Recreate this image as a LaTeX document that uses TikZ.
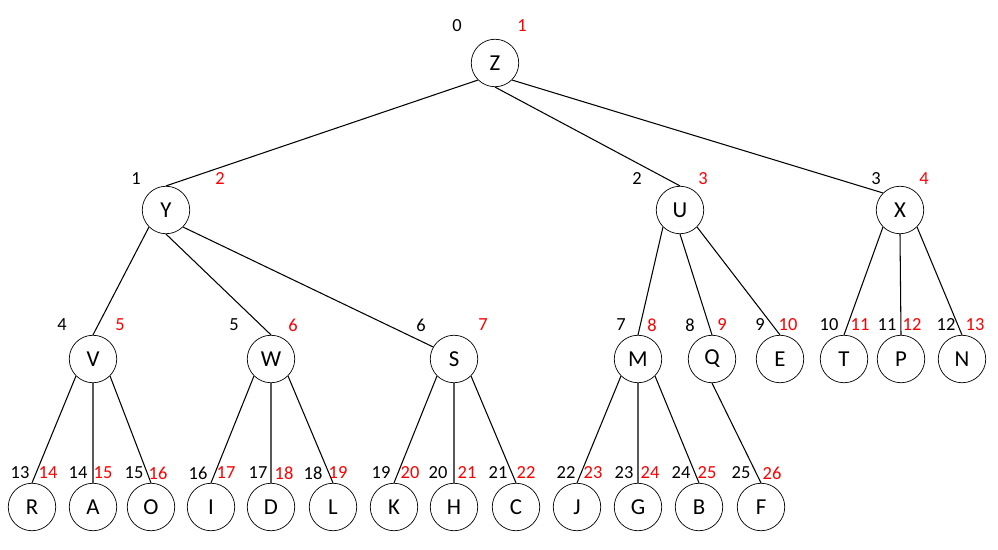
\documentclass[tikz,border=0pt]{standalone}
\usepackage{fontspec}
\setmainfont{Carlito}

\begin{document}
\begin{tikzpicture}[x=0.02cm,y=-0.02cm,
  every node/.style={draw,circle,minimum size=9.5mm,inner sep=0pt,font=\fontsize{13}{15}\selectfont},
  num/.style={draw=none,rectangle,minimum size=0pt,font=\fontsize{10.5}{12}\selectfont},
  ord/.style={num,text=red}]
\useasboundingbox (0,0) rectangle (998,550);

%level 0
\node (Z) at (495,63) {Z};

%level 1
\node (Y) at (166,210) {Y};
\node (U) at (680,210) {U};
\node (X) at (900,210) {X};

%level 2
\node (V) at (93,359) {V};
\node (W) at (271,359) {W};
\node (S) at (454,359) {S};
\node (M) at (638,359) {M};
\node (Q) at (712,359) {Q};
\node (E) at (780,359) {E};
\node (T) at (844,359) {T};
\node (P) at (901,359) {P};
\node (N) at (962,359) {N};

%level 3
\node (R) at (32,507) {R};
\node (A) at (93,507) {A};
\node (O) at (151,507) {O};
\node (I) at (211,507) {I};
\node (D) at (271,507) {D};
\node (L) at (333,507) {L};
\node (K) at (394,507) {K};
\node (H) at (454,507) {H};
\node (C) at (516,507) {C};
\node (J) at (577,507) {J};
\node (G) at (638,507) {G};
\node (B) at (699,507) {B};
\node (F) at (761,507) {F};

\draw[line width=0.6pt] (Z.south west) -- (Y.north)
      (Z.south) -- (U.north)
      (Z.south east) -- (X.north west)
      (Y.south west) -- (V.north)
      (Y.south) -- (W.north)
      (Y.south east) -- (S.150)
      (U.south west) -- (M.north)
      (U.south) -- (Q.north)
      (U.south east) -- (E.north)
      (X.south west) -- (T.north)
      (X.south) -- (P.north)
      (X.south east) -- (N.north)
      (V.south west) -- (R.north)
      (V.south) -- (A.north)
      (V.south east) -- (O.north)
      (W.south west) -- (I.north)
      (W.south) -- (D.north)
      (W.south east) -- (L.north)
      (S.south west) -- (K.north)
      (S.south) -- (H.north)
      (S.south east) -- (C.north)
      (M.south west) -- (J.north)
      (M.south) -- (G.north)
      (M.south east) -- (B.north)
      (Q.south) -- (F.north);

%numbers
\node[num] (nZ) at (457,26) {0};  \node[ord] (oZ) at (522,26) {1};
\node[num] (nY) at (136,179) {1}; \node[ord] (oY) at (220,179) {2};
\node[num] (nU) at (637,179) {2}; \node[ord] (oU) at (703,179) {3};
\node[num] (nX) at (876,179) {3}; \node[ord] (oX) at (924,179) {4};

\node[num] (nV) at (62,325) {4};  \node[ord] (oV) at (120,325) {5};
\node[num] (nW) at (234,325) {5}; \node[ord] (oW) at (293,325) {6};
\node[num] (nS) at (421,325) {6}; \node[ord] (oS) at (483,325) {7};
\node[num] (nM) at (621,325) {7}; \node[ord] (oM) at (652,325) {8};
\node[num] (nQ) at (690,325) {8}; \node[ord] (oQ) at (722,325) {9};
\node[num] (nE) at (760,325) {9}; \node[ord] (oE) at (788,325) {10};
\node[num] (nT) at (829,325) {10}; \node[ord] (oT) at (860,325) {11};
\node[num] (nP) at (887,325) {11}; \node[ord] (oP) at (912,325) {12};
\node[num] (nN) at (946,325) {12}; \node[ord] (oN) at (975,325) {13};

\node[num] (nR) at (20,473) {13};  \node[ord] (oR) at (48,473) {14};
\node[num] (nA) at (78,473) {14};  \node[ord] (oA) at (103,473) {15};
\node[num] (nO) at (134,473) {15}; \node[ord] (oO) at (158,473) {16};
\node[num] (nI) at (198,473) {16}; \node[ord] (oI) at (226,473) {17};
\node[num] (nD) at (258,473) {17}; \node[ord] (oD) at (284,473) {18};
\node[num] (nL) at (313,473) {18}; \node[ord] (oL) at (338,473) {19};
\node[num] (nK) at (381,473) {19}; \node[ord] (oK) at (410,473) {20};
\node[num] (nH) at (438,473) {20}; \node[ord] (oH) at (467,473) {21};
\node[num] (nC) at (498,473) {21}; \node[ord] (oC) at (526,473) {22};
\node[num] (nJ) at (566,473) {22}; \node[ord] (oJ) at (593,473) {23};
\node[num] (nG) at (624,473) {23}; \node[ord] (oG) at (650,473) {24};
\node[num] (nB) at (681,473) {24}; \node[ord] (oB) at (707,473) {25};
\node[num] (nF) at (741,473) {25}; \node[ord] (oF) at (772,473) {26};

\end{tikzpicture}
\end{document}
